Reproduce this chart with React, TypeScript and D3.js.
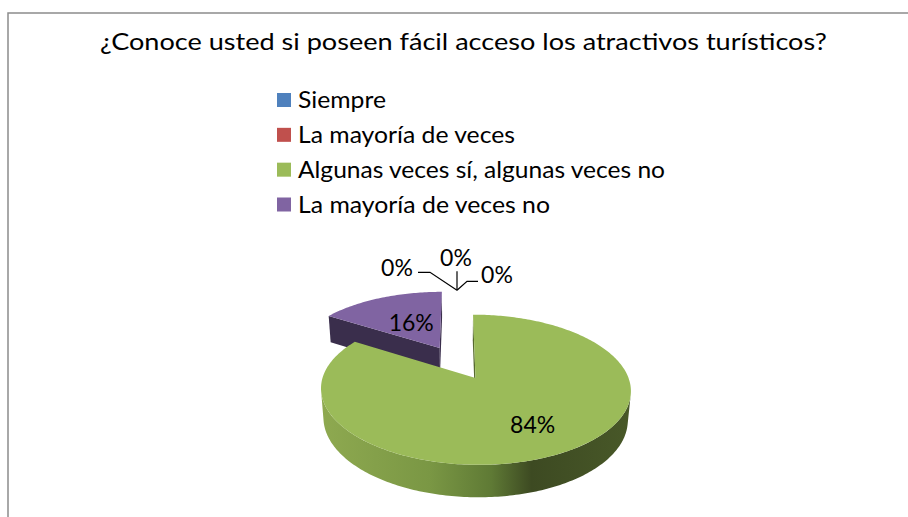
import React from "react";
import * as d3 from "d3";

// ---- data ----
const title = "¿Conoce usted si poseen fácil acceso los atractivos turísticos?";
const categories = [
  "Siempre",
  "La mayoría de veces",
  "Algunas veces sí, algunas veces no",
  "La mayoría de veces no",
];
const values = [0, 0, 84, 16];
const percentLabels = ["0%", "0%", "84%", "16%"];
const colors = ["#4f81bd", "#c0504d", "#9bbb59", "#8064a2"];
const faceColors = ["#2f4d71", "#73302e", "#56692e", "#3a2e4c"];

// ---- layout / projection ----
const W = 908;
const H = 517;
const FONT = "Lato, 'Open Sans', sans-serif";
const K = 148; // focal scale
const persp = 0.15; // cos(tilt)/distance
const sinT = 0.463;
const cosT = 0.886;
const dist = 5.9;
const cx = 457;
const cy = 362.5;
const thick = 0.22;
const explode = 0.251;
const camY = dist * cosT;

function project(X: number, Y: number, Hh: number): [number, number] {
  const w = 1 - Y * persp - (Hh * sinT) / dist;
  return [cx + (K * X) / w, cy + (K * (Y * sinT - Hh * cosT)) / w];
}

const pie = d3
  .pie<number>()
  .sort(null)
  .startAngle(0)
  .endAngle(2 * Math.PI)
  .value((d) => d);

const line = d3.line<[number, number]>();

function arcPts(ox: number, oy: number, a0: number, a1: number, hh: number) {
  const n = Math.max(2, Math.ceil(Math.abs(a1 - a0) / (Math.PI / 180)));
  const pts: [number, number][] = [];
  for (let i = 0; i <= n; i++) {
    const a = a0 + ((a1 - a0) * i) / n;
    pts.push(project(ox + Math.sin(a), oy - Math.cos(a), hh));
  }
  return pts;
}

export default function App() {
  const arcs = pie(values);
  const slices = arcs.map((a, i) => {
    const mid = (a.startAngle + a.endAngle) / 2;
    const ox = explode * Math.sin(mid);
    const oy = -explode * Math.cos(mid);
    return { a, i, mid, ox, oy };
  });
  const order = slices
    .filter((s) => s.a.endAngle - s.a.startAngle > 1e-6)
    .sort((p, q) => p.oy - q.oy);

  const legendY = d3.scaleLinear().domain([0, 3]).range([100, 204.5]);
  const legendWidths = [88, 217, 367, 252];

  const labelRadius: Record<number, number> = { 2: 0.68, 3: 0.45 };

  const zeroAnchor = project(0, -(1 + explode), 0);

  return (
    <svg
      width={W}
      height={H}
      style={{ position: "absolute", left: 0, top: 0, display: "block", background: "#fff" }}
      fontFamily={FONT}
    >
      <defs>
        <linearGradient id="sideGreen" gradientUnits="userSpaceOnUse" x1={322} x2={630} y1={0} y2={0}>
          <stop offset="0" stopColor="#8ea950" />
          <stop offset="0.35" stopColor="#7a9744" />
          <stop offset="0.55" stopColor="#5f7a35" />
          <stop offset="0.68" stopColor="#3d4a22" />
          <stop offset="1" stopColor="#485828" />
        </linearGradient>
      </defs>
      <rect x={0} y={0} width={W} height={H} fill="#fff" />
      <rect x={8} y={13} width={1200} height={1000} fill="none" stroke="#8c8c8c" strokeWidth={1.5} />

      <text x={463.5} y={50} textAnchor="middle" fontSize={23} fill="#000" textLength={727} lengthAdjust="spacingAndGlyphs">
        {title}
      </text>

      {categories.map((c, i) => (
        <g key={c}>
          <rect x={277} y={legendY(i) - 7} width={14} height={14} fill={colors[i]} />
          <text x={298} y={legendY(i) + 8} fontSize={23} fill="#000" textLength={legendWidths[i]} lengthAdjust="spacingAndGlyphs">
            {c}
          </text>
        </g>
      ))}

      {order.map(({ a, i, ox, oy }) => {
        const a0 = a.startAngle;
        const a1 = a.endAngle;
        const n = Math.ceil((a1 - a0) / (Math.PI / 360));
        const vis: number[] = [];
        for (let k = 0; k <= n; k++) {
          const ang = a0 + ((a1 - a0) * k) / n;
          const d = -1 - ox * Math.sin(ang) - (camY - oy) * Math.cos(ang);
          if (d > 0) vis.push(ang);
        }
        let sidePath: string | null = null;
        if (vis.length > 1) {
          const s0 = vis[0];
          const s1 = vis[vis.length - 1];
          const top = arcPts(ox, oy, s0, s1, 0);
          const bot = arcPts(ox, oy, s0, s1, -thick).reverse();
          sidePath = line([...top, ...bot]) + "Z";
        }
        const faces: string[] = [];
        const radial = (ang: number, sign: number) => {
          const nx = sign * Math.cos(ang);
          const ny = sign * Math.sin(ang);
          const px = ox + 0.5 * Math.sin(ang);
          const py = oy - 0.5 * Math.cos(ang);
          const d = nx * (0 - px) + ny * (camY - py);
          if (d > 0) {
            const pts = [
              project(ox, oy, 0),
              project(ox + Math.sin(ang), oy - Math.cos(ang), 0),
              project(ox + Math.sin(ang), oy - Math.cos(ang), -thick),
              project(ox, oy, -thick),
            ];
            faces.push(line(pts) + "Z");
          }
        };
        radial(a0, -1);
        radial(a1, 1);
        const topPath =
          line([project(ox, oy, 0), ...arcPts(ox, oy, a0, a1, 0)]) + "Z";
        return (
          <g key={i}>
            {faces.map((f, k) => (
              <path key={k} d={f} fill={faceColors[i]} />
            ))}
            {sidePath && (
              <path d={sidePath} fill={i === 2 ? "url(#sideGreen)" : faceColors[i]} />
            )}
            <path d={topPath} fill={colors[i]} />
          </g>
        );
      })}

      {slices
        .filter((s) => values[s.i] > 0)
        .map(({ i, mid, ox, oy }) => {
          const rr = labelRadius[i] ?? 0.6;
          const [lx, ly] = project(ox + rr * Math.sin(mid), oy - rr * Math.cos(mid), 0);
          return (
            <text key={i} x={lx} y={ly + 7} textAnchor="middle" fontSize={23} fill="#000">
              {percentLabels[i]}
            </text>
          );
        })}

      <g stroke="#000" strokeWidth={1.2} fill="none">
        <path d={`M${zeroAnchor[0] - 39},${zeroAnchor[1] - 18}H${zeroAnchor[0] - 27}L${zeroAnchor[0]},${zeroAnchor[1]}`} />
        <path d={`M${zeroAnchor[0]},${zeroAnchor[1] - 19}V${zeroAnchor[1]}`} />
        <path d={`M${zeroAnchor[0] + 21},${zeroAnchor[1] - 9}H${zeroAnchor[0] + 10}L${zeroAnchor[0]},${zeroAnchor[1]}`} />
      </g>
      <text x={zeroAnchor[0] - 60} y={zeroAnchor[1] - 14} textAnchor="middle" fontSize={23}>{percentLabels[0]}</text>
      <text x={zeroAnchor[0] - 1} y={zeroAnchor[1] - 24} textAnchor="middle" fontSize={23}>{percentLabels[1]}</text>
      <text x={zeroAnchor[0] + 40} y={zeroAnchor[1] - 7} textAnchor="middle" fontSize={23}>{percentLabels[0]}</text>
    </svg>
  );
}
